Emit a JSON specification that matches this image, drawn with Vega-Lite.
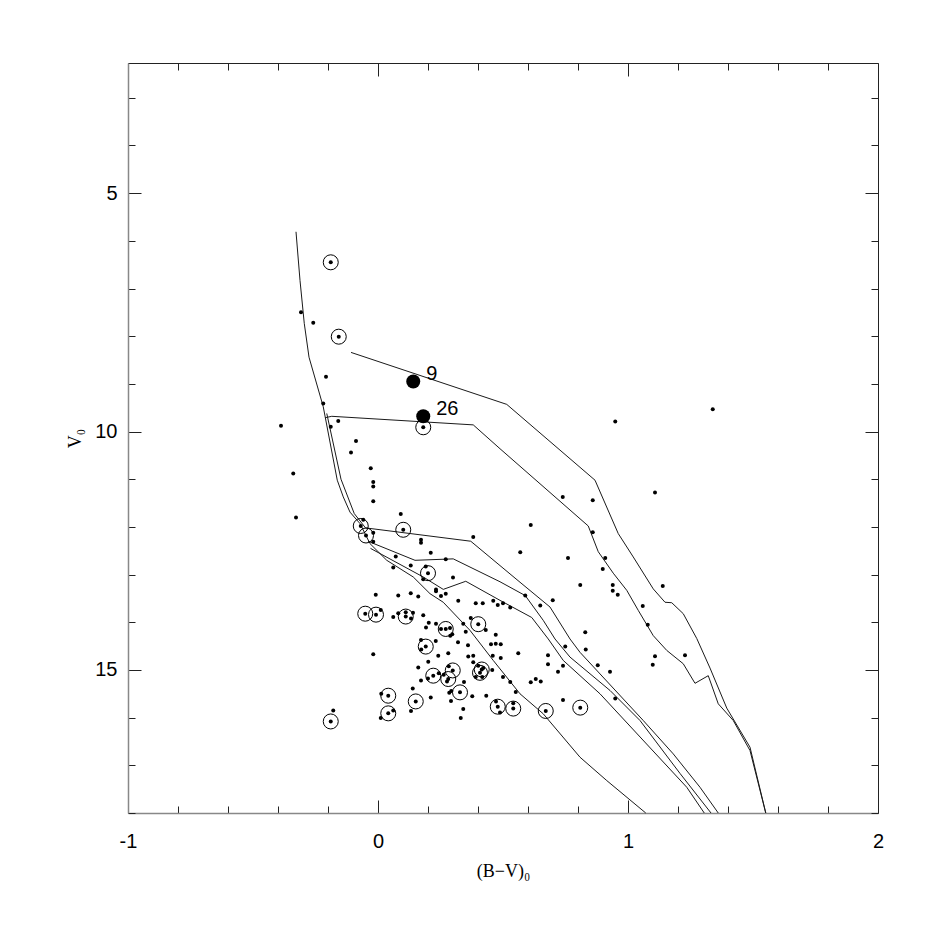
{
  "$schema": "https://vega.github.io/schema/vega-lite/v6.json",
  "width": 750,
  "height": 750,
  "autosize": {"type": "none"},
  "padding": {"left": 128, "top": 63, "right": 48, "bottom": 113},
  "background": "white",
  "config": {"view": {"stroke": null}, "axis": {"grid": false}},
  "datasets": {
    "lines": [
      {"k":"Z","o":0,"x":-0.328,"y":5.81},{"k":"Z","o":1,"x":-0.312,"y":6.83},{"k":"Z","o":2,"x":-0.295,"y":7.73},{"k":"Z","o":3,"x":-0.276,"y":8.44},{"k":"Z","o":4,"x":-0.219,"y":9.48},{"k":"Z","o":5,"x":-0.163,"y":11.02},{"k":"Z","o":6,"x":-0.139,"y":11.37},{"k":"Z","o":7,"x":-0.112,"y":11.69},{"k":"Z","o":8,"x":-0.072,"y":11.93},{"k":"Z","o":9,"x":-0.032,"y":12.35},{"k":"Z","o":10,"x":0.035,"y":12.7},{"k":"Z","o":11,"x":0.141,"y":13.05},{"k":"Z","o":12,"x":0.208,"y":13.4},{"k":"Z","o":13,"x":0.261,"y":13.58},{"k":"Z","o":14,"x":0.368,"y":14.17},{"k":"Z","o":15,"x":0.461,"y":14.8},{"k":"Z","o":16,"x":0.568,"y":15.5},{"k":"Z","o":17,"x":0.661,"y":15.92},{"k":"Z","o":18,"x":0.808,"y":16.83},{"k":"Z","o":19,"x":0.915,"y":17.32},{"k":"Z","o":20,"x":1.071,"y":18.0},
      {"k":"A","o":0,"x":-0.205,"y":9.62},{"k":"A","o":1,"x":-0.148,"y":11.0},{"k":"A","o":2,"x":-0.095,"y":11.72},{"k":"A","o":3,"x":-0.05,"y":12.02},{"k":"A","o":4,"x":0.371,"y":12.3},{"k":"A","o":5,"x":0.568,"y":13.16},{"k":"A","o":6,"x":0.688,"y":13.68},{"k":"A","o":7,"x":0.768,"y":14.35},{"k":"A","o":8,"x":0.808,"y":14.63},{"k":"A","o":9,"x":1.061,"y":16.06},{"k":"A","o":10,"x":1.181,"y":16.76},{"k":"A","o":11,"x":1.288,"y":17.46},{"k":"A","o":12,"x":1.361,"y":18.0},
      {"k":"B","o":0,"x":-0.04,"y":12.3},{"k":"B","o":1,"x":0.148,"y":12.7},{"k":"B","o":2,"x":0.301,"y":12.67},{"k":"B","o":3,"x":0.488,"y":13.15},{"k":"B","o":4,"x":0.589,"y":13.44},{"k":"B","o":5,"x":0.661,"y":13.96},{"k":"B","o":6,"x":0.708,"y":14.35},{"k":"B","o":7,"x":0.768,"y":14.73},{"k":"B","o":8,"x":0.928,"y":15.43},{"k":"B","o":9,"x":1.048,"y":16.06},{"k":"B","o":10,"x":1.208,"y":17.17},{"k":"B","o":11,"x":1.332,"y":18.0},
      {"k":"C","o":0,"x":-0.03,"y":12.45},{"k":"C","o":1,"x":0.181,"y":13.05},{"k":"C","o":2,"x":0.261,"y":13.31},{"k":"C","o":3,"x":0.351,"y":13.14},{"k":"C","o":4,"x":0.488,"y":13.54},{"k":"C","o":5,"x":0.615,"y":13.9},{"k":"C","o":6,"x":0.681,"y":14.35},{"k":"C","o":7,"x":0.741,"y":14.8},{"k":"C","o":8,"x":0.888,"y":15.5},{"k":"C","o":9,"x":1.235,"y":17.46},{"k":"C","o":10,"x":1.305,"y":18.0},
      {"k":"U","o":0,"x":-0.108,"y":8.34},{"k":"U","o":1,"x":0.515,"y":9.43},{"k":"U","o":2,"x":0.868,"y":11.02},{"k":"U","o":3,"x":0.961,"y":12.14},{"k":"U","o":4,"x":1.021,"y":12.63},{"k":"U","o":5,"x":1.101,"y":13.3},{"k":"U","o":6,"x":1.148,"y":13.58},{"k":"U","o":7,"x":1.175,"y":13.59},{"k":"U","o":8,"x":1.221,"y":13.82},{"k":"U","o":9,"x":1.275,"y":14.34},{"k":"U","o":10,"x":1.328,"y":14.96},{"k":"U","o":11,"x":1.395,"y":15.8},{"k":"U","o":12,"x":1.488,"y":16.62},{"k":"U","o":13,"x":1.551,"y":18.0},
      {"k":"S","o":0,"x":-0.212,"y":9.71},{"k":"S","o":1,"x":-0.185,"y":9.68},{"k":"S","o":2,"x":0.381,"y":9.86},{"k":"S","o":3,"x":0.488,"y":10.36},{"k":"S","o":4,"x":0.841,"y":11.98},{"k":"S","o":5,"x":0.881,"y":12.52},{"k":"S","o":6,"x":0.941,"y":12.97},{"k":"S","o":7,"x":0.995,"y":13.33},{"k":"S","o":8,"x":1.041,"y":13.75},{"k":"S","o":9,"x":1.101,"y":14.28},{"k":"S","o":10,"x":1.155,"y":14.59},{"k":"S","o":11,"x":1.221,"y":14.87},{"k":"S","o":12,"x":1.268,"y":15.28},{"k":"S","o":13,"x":1.321,"y":15.12},{"k":"S","o":14,"x":1.361,"y":15.71},{"k":"S","o":15,"x":1.421,"y":16.06},{"k":"S","o":16,"x":1.488,"y":16.69},{"k":"S","o":17,"x":1.551,"y":18.0}
    ],
    "dots": [
      {"x":-0.308,"y":7.5},{"x":-0.259,"y":7.72},{"x":-0.208,"y":8.85},{"x":-0.219,"y":9.41},{"x":-0.388,"y":9.88},{"x":-0.159,"y":9.78},{"x":-0.189,"y":9.9},{"x":-0.088,"y":10.2},{"x":-0.108,"y":10.44},{"x":-0.029,"y":10.77},{"x":-0.339,"y":10.88},
      {"x":-0.019,"y":11.06},{"x":-0.019,"y":11.15},{"x":-0.019,"y":11.46},{"x":-0.328,"y":11.8},{"x":0.091,"y":11.73},{"x":-0.059,"y":11.85},{"x":-0.019,"y":12.12},{"x":-0.019,"y":12.31},{"x":0.172,"y":12.27},{"x":0.172,"y":12.33},{"x":0.381,"y":12.21},{"x":0.211,"y":12.54},{"x":0.071,"y":12.62},{"x":0.271,"y":12.68},{"x":0.061,"y":12.85},{"x":0.131,"y":12.81},{"x":0.191,"y":12.83},{"x":0.181,"y":13.1},{"x":0.3,"y":13.06},{"x":0.232,"y":13.31},{"x":0.232,"y":13.35},{"x":0.252,"y":13.45},{"x":0.271,"y":13.4},{"x":0.321,"y":13.55},{"x":-0.009,"y":13.42},{"x":0.081,"y":13.44},{"x":0.131,"y":13.39},{"x":0.161,"y":13.46},{"x":0.391,"y":13.6},{"x":0.419,"y":13.6},{"x":0.461,"y":13.55},{"x":0.479,"y":13.64},{"x":0.5,"y":13.6},{"x":0.529,"y":13.69},{"x":0.011,"y":13.74},{"x":0.061,"y":13.89},{"x":0.081,"y":13.81},{"x":0.111,"y":13.79},{"x":0.14,"y":13.8},{"x":0.132,"y":13.92},{"x":0.181,"y":13.85},{"x":0.203,"y":14.01},{"x":0.232,"y":14.03},{"x":0.192,"y":14.11},{"x":0.252,"y":14.14},{"x":0.288,"y":14.12},{"x":0.297,"y":14.25},{"x":0.289,"y":14.28},{"x":0.341,"y":14.03},{"x":0.371,"y":13.91},{"x":0.431,"y":14.16},{"x":0.351,"y":14.2},{"x":0.471,"y":14.26},{"x":0.32,"y":14.42},{"x":0.36,"y":14.48},{"x":0.452,"y":14.46},{"x":0.471,"y":14.45},{"x":0.491,"y":14.46},{"x":0.172,"y":14.37},{"x":0.173,"y":14.57},{"x":0.231,"y":14.39},{"x":-0.019,"y":14.67},{"x":0.281,"y":14.65},{"x":0.241,"y":14.7},{"x":0.361,"y":14.72},{"x":0.381,"y":14.7},{"x":0.381,"y":14.84},{"x":0.459,"y":14.7},{"x":0.491,"y":14.75},{"x":0.561,"y":14.65},{"x":0.201,"y":14.83},{"x":0.161,"y":14.95},{"x":0.172,"y":15.22},{"x":0.2,"y":15.18},{"x":0.243,"y":15.07},{"x":0.283,"y":14.92},{"x":0.263,"y":15.1},{"x":0.276,"y":15.24},{"x":0.401,"y":14.91},{"x":0.421,"y":14.96},{"x":0.391,"y":15.15},{"x":0.417,"y":15.15},{"x":0.457,"y":15.0},{"x":0.344,"y":15.25},{"x":0.5,"y":15.15},{"x":0.529,"y":15.25},{"x":0.551,"y":15.46},{"x":0.139,"y":15.39},{"x":0.211,"y":15.58},{"x":0.292,"y":15.65},{"x":0.293,"y":15.44},{"x":0.285,"y":15.48},{"x":0.377,"y":15.55},{"x":0.433,"y":15.54},{"x":0.013,"y":15.5},{"x":0.061,"y":15.85},{"x":0.011,"y":16.01},{"x":0.132,"y":15.86},{"x":0.341,"y":15.82},{"x":0.331,"y":16.01},{"x":-0.179,"y":15.85},{"x":0.472,"y":15.66},{"x":0.488,"y":15.89},{"x":0.541,"y":15.7},
      {"x":1.339,"y":9.53},{"x":0.949,"y":9.79},{"x":0.739,"y":11.37},{"x":0.859,"y":11.44},{"x":1.108,"y":11.28},{"x":0.611,"y":11.96},{"x":0.859,"y":12.11},{"x":0.569,"y":12.53},{"x":0.76,"y":12.65},{"x":0.909,"y":12.65},{"x":0.899,"y":12.88},{"x":0.809,"y":13.22},{"x":0.939,"y":13.22},{"x":0.939,"y":13.34},{"x":0.959,"y":13.42},{"x":1.139,"y":13.24},{"x":1.059,"y":13.66},{"x":1.079,"y":14.05},{"x":0.589,"y":13.44},{"x":0.649,"y":13.65},{"x":0.699,"y":13.54},{"x":0.829,"y":14.21},
      {"x":0.831,"y":14.57},{"x":0.749,"y":14.51},{"x":0.68,"y":14.69},{"x":0.68,"y":14.88},{"x":0.74,"y":14.91},{"x":0.72,"y":15.04},{"x":0.879,"y":14.9},{"x":0.928,"y":15.04},{"x":0.949,"y":15.6},{"x":1.108,"y":14.71},{"x":1.099,"y":14.89},{"x":1.228,"y":14.69},{"x":0.611,"y":15.26},{"x":0.631,"y":15.19},{"x":0.651,"y":15.24},{"x":0.74,"y":15.63}
    ],
    "circ": [
      {"x":-0.189,"y":6.45},{"x":-0.157,"y":8.01},{"x":0.181,"y":9.91},{"x":-0.069,"y":11.98},{"x":-0.048,"y":12.18},{"x":0.101,"y":12.06},{"x":0.2,"y":12.97},{"x":-0.051,"y":13.82},{"x":-0.008,"y":13.84},{"x":0.111,"y":13.88},{"x":0.271,"y":14.14},{"x":0.401,"y":14.04},{"x":0.191,"y":14.51},{"x":0.221,"y":15.12},{"x":0.281,"y":15.19},{"x":0.299,"y":15.01},{"x":0.415,"y":14.99},{"x":0.408,"y":15.06},{"x":0.328,"y":15.47},{"x":0.041,"y":15.54},{"x":0.151,"y":15.66},{"x":0.041,"y":15.91},{"x":0.479,"y":15.77},{"x":0.541,"y":15.81},{"x":-0.189,"y":16.08},{"x":0.671,"y":15.86},{"x":0.809,"y":15.79}
    ],
    "big": [
      {"x":0.141,"y":8.95,"t":"9"},{"x":0.181,"y":9.68,"t":"26"}
    ]
  },
  "resolve": {"axis": {"x": "independent", "y": "independent"}},
  "layer": [
    {
      "data": {"name": "lines"},
      "mark": {"type": "line", "color": "#1a1a1a", "strokeWidth": 1},
      "encoding": {
        "x": {"field": "x", "type": "quantitative", "scale": {"domain": [-1, 2], "nice": false, "zero": false},
          "axis": {"orient": "bottom", "values": [-1,-0.8,-0.6,-0.4,-0.2,0,0.2,0.4,0.6,0.8,1,1.2,1.4,1.6,1.8,2],
            "tickSize": {"condition": {"test": "abs(datum.value - round(datum.value)) < 0.001", "value": -13}, "value": -7},
            "tickColor": "#222", "tickWidth": 1, "domainColor": "#888", "domainWidth": 1.5,
            "labelExpr": "abs(datum.value - round(datum.value)) < 0.001 ? '' + datum.value : ''",
            "labelFont": "Liberation Sans", "labelFontSize": 20, "labelColor": "black", "labelPadding": 31, "labelFlush": false, "labelOverlap": false,
            "title": "(B−V)₀", "titleFont": "Liberation Serif", "titleFontSize": 18, "titleFontWeight": "normal", "titleColor": "black", "titlePadding": 5}},
        "y": {"field": "y", "type": "quantitative", "scale": {"domain": [2.27, 18], "nice": false, "zero": false, "reverse": true},
          "axis": {"orient": "left", "values": [3,4,5,6,7,8,9,10,11,12,13,14,15,16,17,18],
            "tickSize": {"condition": {"test": "datum.value % 5 === 0", "value": -13}, "value": -7},
            "tickColor": "#222", "tickWidth": 1, "domainColor": "#888", "domainWidth": 1.5,
            "labelExpr": "datum.value % 5 === 0 ? '' + datum.value : ''",
            "labelFont": "Liberation Sans", "labelFontSize": 20, "labelColor": "black", "labelPadding": 24, "labelFlush": false, "labelOverlap": false,
            "title": "V₀", "titleFont": "Liberation Serif", "titleFontSize": 18, "titleFontWeight": "normal", "titleColor": "black", "titlePadding": 10}},
        "detail": {"field": "k", "type": "nominal"},
        "order": {"field": "o", "type": "quantitative"}
      }
    },
    {
      "data": {"name": "dots"},
      "mark": {"type": "point", "filled": true, "shape": "circle", "size": 16, "color": "black", "opacity": 1},
      "encoding": {
        "x": {"field": "x", "type": "quantitative",
          "axis": {"orient": "top", "values": [-1,-0.8,-0.6,-0.4,-0.2,0,0.2,0.4,0.6,0.8,1,1.2,1.4,1.6,1.8,2],
            "tickSize": {"condition": {"test": "abs(datum.value - round(datum.value)) < 0.001", "value": -13}, "value": -7},
            "tickColor": "#222", "tickWidth": 1, "domainColor": "#222", "domainWidth": 1, "labels": false, "title": null}},
        "y": {"field": "y", "type": "quantitative",
          "axis": {"orient": "right", "values": [3,4,5,6,7,8,9,10,11,12,13,14,15,16,17,18],
            "tickSize": {"condition": {"test": "datum.value % 5 === 0", "value": -13}, "value": -7},
            "tickColor": "#222", "tickWidth": 1, "domainColor": "#222", "domainWidth": 1, "labels": false, "title": null}}
      }
    },
    {
      "data": {"name": "circ"},
      "mark": {"type": "point", "filled": false, "shape": "circle", "size": 225, "color": "black", "strokeWidth": 1, "opacity": 1},
      "encoding": {
        "x": {"field": "x", "type": "quantitative", "axis": null},
        "y": {"field": "y", "type": "quantitative", "axis": null}
      }
    },
    {
      "data": {"name": "circ"},
      "mark": {"type": "point", "filled": true, "shape": "circle", "size": 16, "color": "black", "opacity": 1},
      "encoding": {
        "x": {"field": "x", "type": "quantitative", "axis": null},
        "y": {"field": "y", "type": "quantitative", "axis": null}
      }
    },
    {
      "data": {"name": "big"},
      "mark": {"type": "point", "filled": true, "shape": "circle", "size": 196, "color": "black", "opacity": 1},
      "encoding": {
        "x": {"field": "x", "type": "quantitative", "axis": null},
        "y": {"field": "y", "type": "quantitative", "axis": null}
      }
    },
    {
      "data": {"name": "big"},
      "mark": {"type": "text", "align": "left", "baseline": "middle", "dx": 13, "dy": -7, "font": "Liberation Sans", "fontSize": 20, "color": "black"},
      "encoding": {
        "x": {"field": "x", "type": "quantitative", "axis": null},
        "y": {"field": "y", "type": "quantitative", "axis": null},
        "text": {"field": "t", "type": "nominal"}
      }
    }
  ]
}
